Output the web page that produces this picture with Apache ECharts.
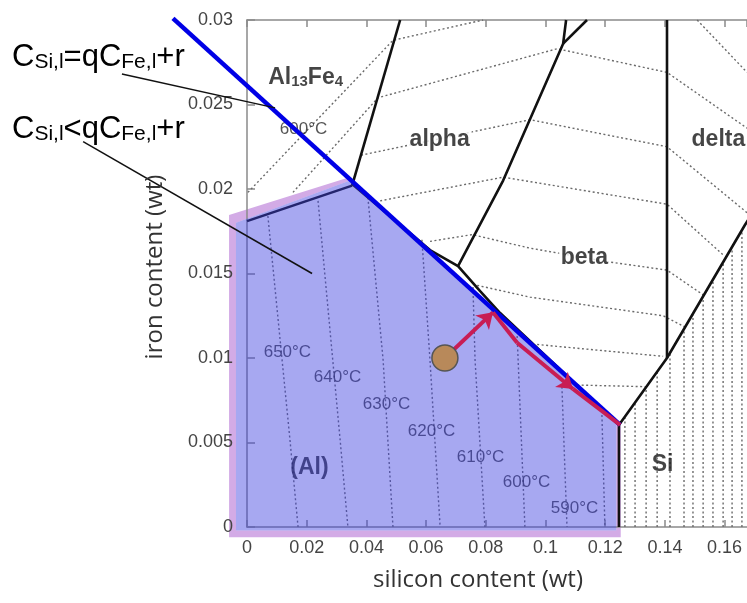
<!DOCTYPE html>
<html><head><meta charset="utf-8">
<script src="https://cdn.jsdelivr.net/npm/echarts/dist/echarts.min.js"></script>
<style>html,body{margin:0;padding:0;background:#fff}#c{width:747px;height:603px}</style>
</head><body><div id="c"></div>
<script>
// ---- axes ----
const xMin = 0, xMax = 0.1675, xStep = 0.02;
const yMin = 0, yMax = 0.03, yStep = 0.005;

// ---- phase boundaries (silicon wt, iron wt) ----
const blueLine = [[-0.0248, 0.0301], [0.1250, 0.00604]];
const alTopEdge = [[0, 0.0181], [0.0352, 0.0202]];
const al13Alpha = [[0.0352, 0.0202], [0.0513, 0.030]];
const liquidus = [[0.0352, 0.0203], [0.0613, 0.01639], [0.0707, 0.01544], [0.0781, 0.01396], [0.0848, 0.01266], [0.1246, 0.00604]];
const alphaBeta = [[0.0707, 0.01544], [0.0858, 0.0205], [0.1059, 0.0286], [0.1069, 0.030]];
const alphaBetaBranch = [[0.1059, 0.0286], [0.1139, 0.030]];
const betaDelta = [[0.1407, 0.030], [0.1407, 0.0100]];
const siBoundary = [[0.1246, 0.00604], [0.1407, 0.0100], [0.1668, 0.01787], [0.172, 0.0193]];
const alSi = [[0.1246, 0.00604], [0.1246, 0]];

// ---- (Al) region shading ----
const bandOuter = [[-0.006, -0.0006], [-0.006, 0.01846], [0.0343, 0.0207], [0.1252, 0.0061], [0.1252, -0.0006]];
const alRegion = [[-0.0037, -0.0002], [-0.0037, 0.0180], [0.0345, 0.0205], [0.1237, 0.00625], [0.1237, -0.0002]];

// ---- isotherms in (Al) ----
const isoAl1 = [[0.0070, 0.0184], [0.0144, 0.00515], [0.0171, 0]];
const isoAl2 = [[0.0238, 0.0193], [0.0312, 0.00515], [0.0338, 0]];
const isoAl3 = [[0.0405, 0.0195], [0.0456, 0.00988], [0.0489, 0]];
const isoAl4 = [[0.0586, 0.0170], [0.0613, 0.00988], [0.0647, 0]];
const isoAl5 = [[0.0757, 0.0142], [0.0764, 0.00988], [0.0797, 0]];
const isoAl6 = [[0.0905, 0.0113], [0.0931, 0]];
const isoAl7 = [[0.1055, 0.0083], [0.1072, 0]];
const isoAl8 = [[0.1189, 0.00663], [0.1199, 0]];
// ---- isotherms in intermetallic regions ----
const isoA = [[0.0003, 0.0198], [0.0489, 0.0288], [0.0791, 0.030]];
const isoB = [[0.0154, 0.0198], [0.0439, 0.0254], [0.1039, 0.0283], [0.1407, 0.0269], [0.1675, 0.0236]];
const isoC = [[0.0382, 0.0220], [0.0948, 0.0241], [0.1407, 0.0225], [0.1675, 0.0186]];
const isoD = [[0.0446, 0.0193], [0.0858, 0.0207], [0.1407, 0.0191], [0.1595, 0.0161]];
const isoE = [[0.0613, 0.0169], [0.0754, 0.0173], [0.0948, 0.0165], [0.1206, 0.0157], [0.1407, 0.0152], [0.1531, 0.0137]];
const isoF = [[0.0771, 0.0143], [0.0948, 0.0136], [0.1394, 0.0125], [0.1471, 0.0118]];
const isoG = [[0.0972, 0.0108], [0.1394, 0.0101]];
const isoH = [[0.1106, 0.0084], [0.1343, 0.0083]];
const isoTop = [[0.1508, 0.030], [0.1675, 0.0269]];
// ---- isotherms in Si region (x, top y) ----
const siIsoX = [0.1266, 0.1300, 0.1337, 0.1374, 0.1417, 0.1464, 0.1494, 0.1528, 0.1561, 0.1595, 0.1625, 0.1658];
const siIsoTop = [0.00645, 0.00728, 0.00819, 0.00911, 0.01024, 0.01166, 0.01254, 0.01355, 0.01456, 0.01556, 0.01645, 0.01746];

// ---- solidification path ----
const startPoint = [0.0663, 0.0100];
const path1 = [[0.0663, 0.0100], [0.0824, 0.0127]];
const path2a = [[0.0824, 0.0127], [0.0905, 0.0109]];
const path2b = [[0.0905, 0.0109], [0.1092, 0.00817]];
const path2c = [[0.1092, 0.00817], [0.1250, 0.00604]];

// ---- leader lines ----
const leader1 = [[-0.0419, 0.0268], [0.0094, 0.0248]];
const leader2 = [[-0.0549, 0.0228], [0.0218, 0.0150]];

// ---- labels ----
const tempLabels = ['650°C', '640°C', '630°C', '620°C', '610°C', '600°C', '590°C'];
const tempLabelPos = [[0.0137, 0.0103], [0.0305, 0.00882], [0.0469, 0.00722], [0.0620, 0.00562], [0.0784, 0.00408], [0.0938, 0.00260], [0.1099, 0.00107]];
const topTempLabel = '600°C';
const topTempPos = [0.0191, 0.0235];
const phaseNames = ['alpha', 'beta', 'Si', '(Al)'];
const phasePos = [[0.0647, 0.0229], [0.1132, 0.0159], [0.1394, 0.00367], [0.0211, 0.00349]];
const deltaName = 'delta';
const deltaPos = [0.1491, 0.0229];
const al13Pos = [0.0198, 0.0267];

const fmt = v => String(Number(v.toFixed(3)));
const dotted = {color: '#6a6a6a', width: 1.4, type: [2, 2.5]};
const black = {color: '#111', width: 2.6};

function lineS(data, style, z) {
  return {type: 'line', data: data, symbol: 'none', silent: true, z: z, lineStyle: style, animation: false};
}
function polyS(pts, fill, z) {
  return {type: 'custom', coordinateSystem: 'cartesian2d', silent: true, z: z, clip: false, data: [[pts[0][0], pts[0][1]]],
    renderItem: (params, api) => ({type: 'polygon', shape: {points: pts.map(p => api.coord(p))}, style: {fill: fill}})};
}
function freeLineS(pts, color, width, z) {
  return {type: 'custom', coordinateSystem: 'cartesian2d', silent: true, z: z, clip: false, data: [[pts[0][0], pts[0][1]]],
    renderItem: (params, api) => ({type: 'polyline', shape: {points: pts.map(p => api.coord(p))},
      style: {stroke: color, lineWidth: width, fill: null}})};
}
function labelS(items, z) {
  return {type: 'scatter', symbolSize: 1, itemStyle: {color: 'rgba(0,0,0,0)'}, silent: true, z: z, clip: false,
    data: items, animation: false};
}

const series = [];
series.push(polyS(bandOuter, '#d3abe6', 1));
series.push(polyS(alRegion, '#ffffff', 1));
[isoAl1, isoAl2, isoAl3, isoAl4, isoAl5, isoAl6, isoAl7, isoAl8, isoA, isoB, isoC, isoD, isoE, isoF, isoG, isoH, isoTop]
  .forEach(d => series.push(lineS(d, dotted, 4)));
siIsoX.forEach((x, i) => series.push(lineS([[x, 0], [x, siIsoTop[i]]], dotted, 4)));
series.push(lineS(alTopEdge, black, 4));
series.push(lineS(al13Alpha, black, 4));
series.push(lineS(liquidus, black, 4));
series.push(lineS(alphaBeta, black, 4));
series.push(lineS(alphaBetaBranch, black, 4));
series.push(lineS(betaDelta, black, 4));
series.push(lineS(siBoundary, black, 4));
series.push(lineS(alSi, black, 4));

const tempStyle = {fontFamily: 'Liberation Sans, Arial', fontSize: 17, color: '#2a2a2a'};
const boldStyle = {fontFamily: 'Liberation Sans, Arial', fontSize: 23, fontWeight: 'bold', color: '#161616'};
const lblItems = [];
tempLabels.forEach((t, i) => lblItems.push({value: tempLabelPos[i], name: t,
  label: Object.assign({show: true, position: [0, 0], align: 'center', verticalAlign: 'middle', formatter: '{b}'}, tempStyle)}));
lblItems.push({value: topTempPos, name: topTempLabel,
  label: Object.assign({show: true, position: [0, 0], align: 'center', verticalAlign: 'middle', formatter: '{b}'}, tempStyle)});
phaseNames.forEach((t, i) => lblItems.push({value: phasePos[i], name: t,
  label: Object.assign({show: true, position: [0, 0], align: 'center', verticalAlign: 'middle', formatter: '{b}',
    backgroundColor: (t === 'alpha' || t === 'beta') ? '#fff' : 'transparent', padding: [0, 2]}, boldStyle)}));
lblItems.push({value: deltaPos, name: deltaName,
  label: Object.assign({show: true, position: [0, 0], align: 'left', verticalAlign: 'middle', formatter: '{b}'}, boldStyle)});
lblItems.push({value: al13Pos, name: 'Al13Fe4',
  label: {show: true, position: [0, 0], align: 'center', verticalAlign: 'middle',
    formatter: '{b|Al}{s|13}{b|Fe}{s|4}',
    rich: {
      b: {fontFamily: 'Liberation Sans, Arial', fontSize: 23, fontWeight: 'bold', color: '#161616', lineHeight: 28, verticalAlign: 'bottom'},
      s: {fontFamily: 'Liberation Sans, Arial', fontSize: 15, fontWeight: 'bold', color: '#161616', lineHeight: 11, verticalAlign: 'bottom'}
    }}});
series.push(labelS(lblItems, 4));

series.push(polyS(alRegion, 'rgba(60,62,225,0.45)', 5));
series.push(freeLineS(blueLine, '#0000e6', 4.5, 6));
series.push(freeLineS(leader1, '#111', 1.5, 6));
series.push(freeLineS(leader2, '#111', 1.5, 6));

const red = '#c81d55';
series.push({type: 'lines', coordinateSystem: 'cartesian2d', z: 7, silent: true, animation: false,
  lineStyle: {color: red, width: 4, opacity: 1}, symbol: ['none', 'arrow'], symbolSize: 15,
  data: [{coords: path1}, {coords: path2b}]});
series.push({type: 'lines', coordinateSystem: 'cartesian2d', z: 7, silent: true, animation: false,
  lineStyle: {color: red, width: 4, opacity: 1}, symbol: ['none', 'none'],
  data: [{coords: path2a}, {coords: path2c}]});
series.push({type: 'scatter', z: 8, silent: true, animation: false, symbolSize: 26,
  itemStyle: {color: '#b8895a', borderColor: '#555', borderWidth: 1.5, opacity: 1}, data: [startPoint]});

const axisCol = '#8a8a8a';
const option = {
  animation: false,
  backgroundColor: '#fff',
  grid: {left: 247, top: 20, right: 0, bottom: 76, show: false},
  xAxis: [{
    type: 'value', min: xMin, max: xMax, interval: xStep, position: 'bottom', z: 3,
    axisLine: {show: true, onZero: false, lineStyle: {color: axisCol, width: 1.5}},
    axisTick: {show: true, inside: true, length: 7, lineStyle: {color: axisCol, width: 1.5}},
    axisLabel: {color: '#444', fontSize: 18, fontFamily: 'Liberation Sans, Arial', margin: 12, formatter: fmt, showMaxLabel: false},
    splitLine: {show: false}
  }, {
    type: 'value', min: xMin, max: xMax, interval: xStep, position: 'top', z: 3,
    axisLine: {show: true, onZero: false, lineStyle: {color: axisCol, width: 1.5}},
    axisTick: {show: true, inside: true, length: 7, lineStyle: {color: axisCol, width: 1.5}},
    axisLabel: {show: false}, splitLine: {show: false}
  }],
  yAxis: [{
    type: 'value', min: yMin, max: yMax, interval: yStep, z: 3,
    axisLine: {show: true, onZero: false, lineStyle: {color: axisCol, width: 1.5}},
    axisTick: {show: true, inside: true, length: 8, lineStyle: {color: axisCol, width: 1.5}},
    axisLabel: {color: '#444', fontSize: 18, fontFamily: 'Liberation Sans, Arial', margin: 14, formatter: fmt},
    splitLine: {show: false}
  }],
  graphic: [
    {type: 'text', left: 373, top: 568, z: 10, style: {text: 'silicon content (wt)', fontFamily: 'Open Sans', fontSize: 24, fill: '#333'}},
    {type: 'text', x: 155, y: 267, rotation: Math.PI / 2, z: 10,
      style: {text: 'iron content (wt)', fontFamily: 'Open Sans', fontSize: 24, fill: '#333', align: 'center', verticalAlign: 'middle'}},
    {type: 'text', x: 12, y: 55, z: 10, style: {
      text: '{b|C}{s|Si,l}{b|=qC}{s|Fe,l}{b|+r}', verticalAlign: 'middle', align: 'left',
      rich: {
        b: {fontFamily: 'Liberation Sans, Arial', fontSize: 31, fill: '#000', lineHeight: 36, verticalAlign: 'bottom'},
        s: {fontFamily: 'Liberation Sans, Arial', fontSize: 21, fill: '#000', lineHeight: 21, verticalAlign: 'bottom'}
      }}},
    {type: 'text', x: 12, y: 127, z: 10, style: {
      text: '{b|C}{s|Si,l}{b|<qC}{s|Fe,l}{b|+r}', verticalAlign: 'middle', align: 'left',
      rich: {
        b: {fontFamily: 'Liberation Sans, Arial', fontSize: 31, fill: '#000', lineHeight: 36, verticalAlign: 'bottom'},
        s: {fontFamily: 'Liberation Sans, Arial', fontSize: 21, fill: '#000', lineHeight: 21, verticalAlign: 'bottom'}
      }}}
  ],
  series: series
};
const chart = echarts.init(document.getElementById('c'), null, {renderer: 'canvas'});
chart.setOption(option);
</script></body></html>
